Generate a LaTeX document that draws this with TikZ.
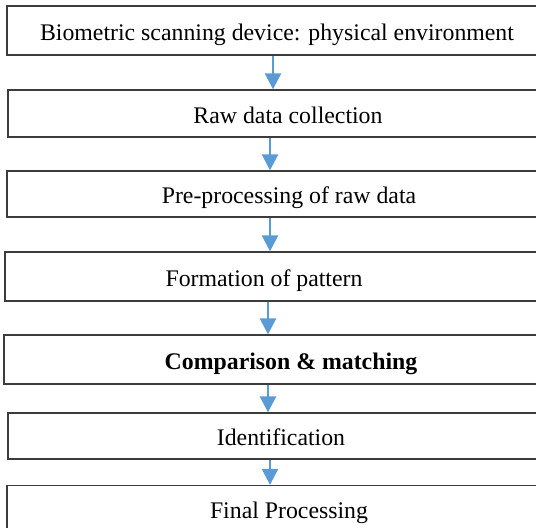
\documentclass[tikz,border=0pt]{standalone}
\usepackage{fontspec}
\setmainfont{Liberation Serif}
\usetikzlibrary{arrows.meta}
\definecolor{flowblue}{HTML}{5B9BD5}
\definecolor{boxgray}{HTML}{3C3C3C}
\tikzset{
	stage/.style = {draw = boxgray, line width = 0.65pt, inner sep = 0pt,
		text height = 1.12em, text depth = 0.15em,
		font = \fontsize{11.9}{13}\selectfont},
	flow/.style = {flowblue, line width = 1.3pt, -{Triangle[width = 8pt, length = 8pt]}}
}
\begin{document}
\begin{tikzpicture} [x = 0.5pt, y = -0.5pt]
	\useasboundingbox (0,0) rectangle (536,528);
	% stages of the process
	\node [stage, minimum width = 270pt, minimum height = 24.5pt] (scan) at (277,30.5) {Biometric scanning device: physical environment};
	\node [stage, minimum width = 280pt, minimum height = 23.5pt] (raw) at (288,113.5) {Raw data collection};
	\node [stage, minimum width = 282pt, minimum height = 23pt] (pre) at (289,194) {Pre-processing of raw data};
	\node [stage, minimum width = 270pt, minimum height = 24.5pt] (pattern) at (275,276.5) {\hspace*{-11pt}Formation of pattern};
	\node [stage, minimum width = 287pt, minimum height = 24.5pt] (match) at (291,359.5) {\bfseries Comparison \& matching};
	\node [stage, minimum width = 273pt, minimum height = 23pt] (ident) at (281,436) {Identification};
	\node [stage, minimum width = 282pt, minimum height = 23pt] (final) at (289,508.5) {Final Processing};
	% arrows
	\coordinate (axa) at (273,0);
	\coordinate (axb) at (270,0);
	\coordinate (axc) at (268,0);
	\draw [flow] (scan.south -| axa) -- (raw.north -| axa);
	\draw [flow] (raw.south -| axb) -- (pre.north -| axb);
	\draw [flow] (pre.south -| axb) -- (pattern.north -| axb);
	\draw [flow] (pattern.south -| axc) -- (match.north -| axc);
	\draw [flow] (match.south -| axc) -- (ident.north -| axc);
	\draw [flow] (ident.south -| axb) -- (final.north -| axb);
\end{tikzpicture}
\end{document}
